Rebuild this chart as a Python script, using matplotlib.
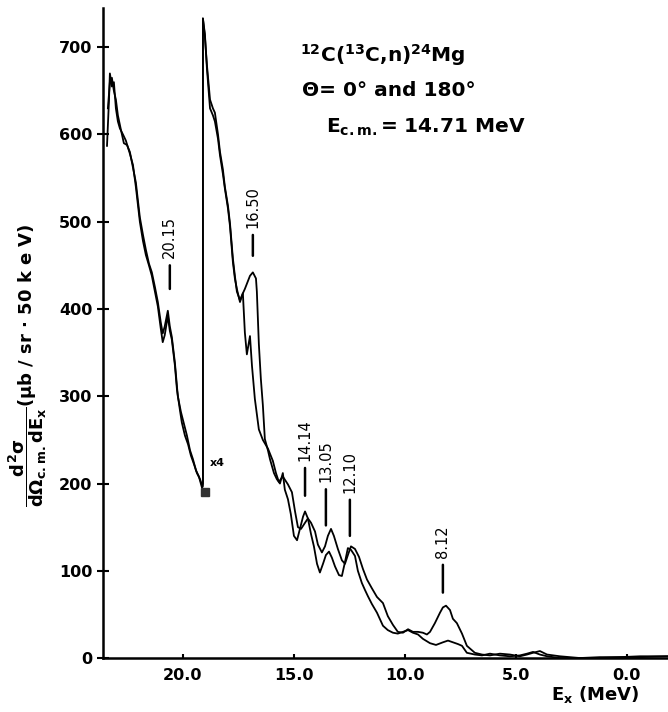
# 12C(13C,n)24Mg neutron spectrum, 0 and 180 deg, Ecm = 14.71 MeV
import matplotlib
matplotlib.use("Agg")
import matplotlib.pyplot as plt

plt.rcParams['font.family'] = ['DejaVu Sans']
plt.rcParams['font.weight'] = 'bold'
plt.rcParams['axes.labelweight'] = 'bold'
plt.rcParams['mathtext.fontset'] = 'custom'
plt.rcParams['mathtext.rm'] = 'DejaVu Sans:bold'
plt.rcParams['mathtext.it'] = 'DejaVu Sans:bold'
plt.rcParams['mathtext.bf'] = 'DejaVu Sans:bold'

# spectre 1 (0 deg) : Ex (MeV), d2sigma (ub/sr.50keV) as displayed
ex_1 = [23.42, 23.33, 23.29, 23.20, 23.11, 23.02, 22.93, 22.84, 22.70, 22.57,
        22.39, 22.25, 22.12, 21.94, 21.80, 21.67, 21.53, 21.40, 21.26, 21.13,
        21.00, 20.91, 20.82, 20.68, 20.59, 20.50, 20.36, 20.27, 20.14, 20.05,
        19.91, 19.77, 19.64, 19.50, 19.37, 19.23, 19.14, 19.10, 19.10, 19.01,
        18.92, 18.78, 18.65, 18.56, 18.42, 18.33, 18.20, 18.11, 17.97, 17.88,
        17.75, 17.66, 17.57, 17.43, 17.30, 17.21, 17.07, 16.98, 16.85, 16.71,
        16.67, 16.58, 16.49, 16.40, 16.31, 16.17, 16.08, 15.90, 15.77, 15.63,
        15.50, 15.41, 15.27, 15.14, 15.00, 14.86, 14.73, 14.59, 14.50, 14.37,
        14.23, 14.10, 13.96, 13.83, 13.69, 13.56, 13.42, 13.29, 13.15, 12.97,
        12.84, 12.70, 12.57, 12.43, 12.25, 12.12, 11.94, 11.80, 11.67, 11.49,
        11.26, 10.99, 10.77, 10.54, 10.32, 10.09, 9.86, 9.64, 9.41, 9.19,
        8.87, 8.60, 8.29, 8.06, 7.84, 7.61, 7.43, 7.21, 6.85, 6.53,
        6.17, 5.72, 5.27, 4.82, 4.50, 4.23, 3.92, 3.60, 3.02, 2.12,
        1.22, 0.32, -0.59, -1.85]
sig_1 = [587, 640, 670, 655, 660, 630, 615, 607, 600, 593,
         578, 565, 540, 500, 478, 462, 450, 438, 420, 403,
         378, 362, 370, 392, 375, 365, 335, 308, 285, 270,
         255, 245, 232, 222, 212, 205, 198, 200, 733, 715,
         676, 630, 622, 615, 595, 576, 555, 538, 515, 495,
         454, 435, 423, 408, 418, 423, 432, 438, 442, 435,
         420, 360, 320, 290, 251, 238, 228, 212, 205, 200,
         212, 193, 182, 165, 140, 135, 148, 162, 168, 160,
         142, 128, 108, 98, 108, 118, 122, 115, 105, 95,
         94, 110, 126, 124, 117, 100, 86, 78, 71, 62,
         52, 37, 32, 29, 28, 30, 32, 29, 27, 22,
         17, 15, 18, 20, 18, 16, 14, 6, 4, 3,
         5, 3, 2, 3, 5, 7, 4, 2, 0, 0,
         1, 1, 2, 2]

# spectre 2 (180 deg)
ex_2 = [23.38, 23.29, 23.20, 23.11, 23.02, 22.93, 22.79, 22.66, 22.52, 22.39,
        22.25, 22.12, 21.94, 21.80, 21.67, 21.53, 21.40, 21.26, 21.13, 21.00,
        20.91, 20.82, 20.68, 20.59, 20.50, 20.36, 20.23, 20.09, 19.95, 19.82,
        19.68, 19.55, 19.41, 19.28, 19.14, 19.10, 19.10, 19.01, 18.92, 18.78,
        18.65, 18.56, 18.42, 18.33, 18.20, 18.11, 17.97, 17.88, 17.75, 17.66,
        17.57, 17.43, 17.30, 17.21, 17.12, 16.98, 16.89, 16.76, 16.58, 16.40,
        16.17, 15.95, 15.81, 15.68, 15.50, 15.27, 15.09, 14.95, 14.82, 14.68,
        14.50, 14.37, 14.23, 14.05, 13.92, 13.74, 13.60, 13.47, 13.33, 13.20,
        13.02, 12.84, 12.70, 12.57, 12.43, 12.25, 12.07, 11.89, 11.71, 11.49,
        11.26, 10.99, 10.77, 10.54, 10.32, 10.09, 9.86, 9.64, 9.41, 9.19,
        9.01, 8.87, 8.65, 8.42, 8.29, 8.15, 7.97, 7.84, 7.66, 7.43,
        7.21, 6.85, 6.53, 6.17, 5.72, 5.27, 4.82, 4.50, 4.23, 3.92,
        3.60, 3.02, 2.12, 1.22, 0.32, -0.59, -1.85]
sig_2 = [630, 660, 665, 650, 640, 622, 605, 590, 588, 580,
         562, 545, 505, 485, 468, 452, 442, 425, 408, 385,
         372, 380, 398, 380, 368, 338, 300, 282, 268, 255,
         238, 228, 215, 208, 195, 197, 733, 712,
         680, 640, 630, 625, 600, 580, 560, 540, 518, 498,
         458, 438, 420, 410, 418, 373, 348, 369, 335, 297, 262, 250,
         240, 226, 212, 202, 208, 199, 190, 168, 150, 148,
         155, 160, 155, 145, 130, 121, 128, 140, 148, 140,
         125, 112, 108, 118, 128, 125, 116, 102, 90, 80,
         70, 63, 48, 38, 30, 29, 33, 30, 30, 29,
         27, 30, 40, 52, 58, 60, 55, 45, 40, 28,
         14, 6, 4, 3, 5, 4, 2, 4, 6, 8,
         4, 2, 0, 0, 1, 1, 2]

# niveaux identifies
pic_ex = [20.59, 16.85, 14.50, 13.56, 12.48, 8.29]
pic_y = [423, 461, 186, 152, 140, 75]
pic_lbl = ["20.15", "16.50", "14.14", "13.05", "12.10", "8.12"]
pic_trait = [22, 20, 25, 31, 31, 25]   # longueur du trait (points)

x_ticks = [20, 15, 10, 5, 0]
x_labels = ["20.0", "15.0", "10.0", "5.0", "0.0"]
y_ticks = [0, 100, 200, 300, 400, 500, 600, 700]

fig = plt.figure(figsize=(6.68, 7.12), dpi=100)
ax = fig.add_axes([0.1542, 0.0758, 0.8458, 0.913])

ax.plot(ex_1, sig_1, color='black', lw=1.3)
ax.plot(ex_2, sig_2, color='black', lw=1.3)
ax.plot([19.0], [190], 's', color='#333333', ms=6)
ax.text(18.45, 223, "x4", fontsize=8, ha='center', va='center')

for ex, y, lbl, l in zip(pic_ex, pic_y, pic_lbl, pic_trait):
    ax.annotate(lbl, xy=(ex, y), xytext=(0, l), textcoords='offset points',
                rotation=90, ha='center', va='bottom', fontsize=10.5,
                fontweight='normal',
                arrowprops=dict(arrowstyle='-', lw=1.8, color='black',
                                shrinkA=3, shrinkB=0))

ax.set_xlim(23.6, -1.85)
ax.set_ylim(0, 745)
ax.set_xticks(x_ticks)
ax.set_xticklabels(x_labels)
ax.set_yticks(y_ticks)
ax.tick_params(axis='y', direction='inout', length=9, width=1.5, labelsize=11.5, pad=3)
ax.tick_params(axis='x', direction='in', length=3, width=1.5, labelsize=11.5, pad=7)
for s in ['top', 'right']:
    ax.spines[s].set_visible(False)
for s in ['left', 'bottom']:
    ax.spines[s].set_linewidth(1.8)

ax.set_ylabel(r'$\dfrac{d^2\sigma}{d\Omega_{\mathrm{c.m.}}dE_x}$(μb / sr · 50 k e V)',
              fontsize=13, fontweight='bold')
ax.yaxis.set_label_coords(-0.095, 0.45)
ax.set_xlabel(r'E$_{\mathrm{x}}$ (MeV)', fontsize=13, fontweight='bold')
ax.xaxis.set_label_coords(0.871, -0.04)

ax.text(0.348, 0.928, r'$^{12}$C($^{13}$C,n)$^{24}$Mg', transform=ax.transAxes,
        fontsize=14.5, va='center')
ax.text(0.353, 0.873, 'Θ= 0° and 180°', transform=ax.transAxes,
        fontsize=14.5, va='center')
ax.text(0.394, 0.816, r'E$_{\mathrm{c.m.}}$= 14.71 MeV', transform=ax.transAxes,
        fontsize=14.5, va='center')

fig.savefig("out.png", dpi=100)
